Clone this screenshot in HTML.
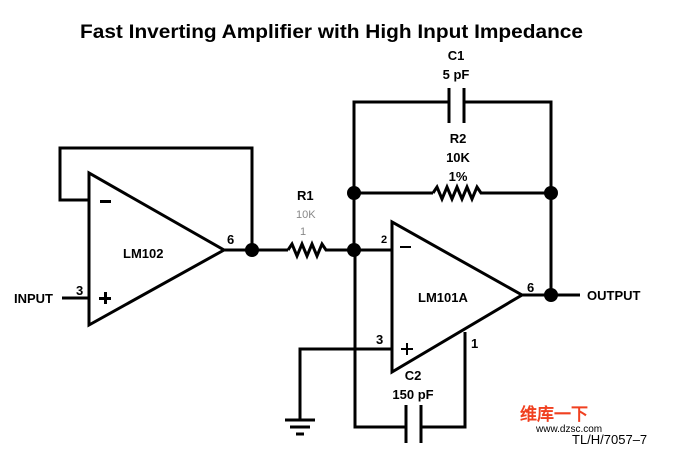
<!DOCTYPE html>
<html><head><style>
body{margin:0;background:#fff;}
svg{display:block;font-family:"Liberation Sans",sans-serif;font-weight:bold;}
</style></head><body>
<svg width="677" height="454" viewBox="0 0 677 454" xmlns="http://www.w3.org/2000/svg">
<rect width="677" height="454" fill="#fff"/>
<text x="80" y="38" font-size="19" textLength="503" lengthAdjust="spacingAndGlyphs" fill="#000">Fast Inverting Amplifier with High Input Impedance</text>
<g stroke="#000" stroke-width="3" fill="none">
<polygon points="89,173 89,325 224,250"/>
<polyline points="89,200 60,200 60,148 252,148 252,250"/>
<line x1="62" y1="298" x2="89" y2="298"/>
<line x1="224" y1="250" x2="288" y2="250"/>
<polyline points="288,250 292,244 297,256 302,244 307,256 312,244 317,256 322,244 326,250 340,250"/>
<line x1="340" y1="250" x2="392" y2="250"/>
<polygon points="392,222 392,372 522,295"/>
<line x1="522" y1="295" x2="580" y2="295"/>
<polyline points="354,250 354,102 449,102"/>
<polyline points="464,102 551,102 551,295"/>
<line x1="449" y1="88" x2="449" y2="123"/>
<line x1="464" y1="88" x2="464" y2="123"/>
<line x1="354" y1="193" x2="433" y2="193"/>
<polyline points="433,193 437,187 442,199 447,187 452,199 457,187 462,199 467,187 472,199 477,187 481,193 551,193"/>
<polyline points="392,349 300,349 300,420"/>
<line x1="285" y1="420" x2="315" y2="420"/>
<line x1="290" y1="427" x2="310" y2="427"/>
<line x1="296" y1="434" x2="304" y2="434"/>
<polyline points="355,250 355,427 406,427"/>
<line x1="406" y1="405" x2="406" y2="443"/>
<line x1="421" y1="405" x2="421" y2="443"/>
<polyline points="421,427 465,427 465,332"/>
</g>
<g fill="#000">
<circle cx="252" cy="250" r="7"/>
<circle cx="354" cy="250" r="7"/>
<circle cx="354" cy="193" r="7"/>
<circle cx="551" cy="193" r="7"/>
<circle cx="551" cy="295" r="7"/>
<rect x="100" y="200" width="11" height="3"/>
<rect x="99" y="297" width="12" height="3"/><rect x="104" y="292" width="3" height="12"/>
<rect x="400" y="246" width="11" height="2"/>
<rect x="401" y="348" width="12" height="2"/><rect x="406" y="343" width="2" height="12"/>
</g>
<g font-size="13" fill="#000">
<text x="123" y="258">LM102</text>
<text x="418" y="302">LM101A</text>
<text x="14" y="303">INPUT</text>
<text x="76" y="295">3</text>
<text x="227" y="244">6</text>
<text x="527" y="292">6</text>
<text x="587" y="300">OUTPUT</text>
<text x="376" y="344">3</text>
<text x="471" y="348">1</text>
<text x="381" y="243" font-size="11">2</text>
<text x="297" y="200">R1</text>
<text x="296" y="218" font-weight="normal" fill="#888" font-size="11">10K</text>
<text x="300" y="235" font-weight="normal" fill="#888" font-size="11">1</text>
<text x="456" y="60" text-anchor="middle">C1</text>
<text x="456" y="79" text-anchor="middle">5 pF</text>
<text x="458" y="143" text-anchor="middle">R2</text>
<text x="458" y="162" text-anchor="middle">10K</text>
<text x="458" y="181" text-anchor="middle">1%</text>
<text x="413" y="380" text-anchor="middle">C2</text>
<text x="413" y="399" text-anchor="middle">150 pF</text>
<text x="572" y="444" font-weight="normal">TL/H/7057–7</text>
</g>
<text x="520" y="420" font-size="17" fill="#f04020">维库一下</text>
<text x="536" y="432" font-size="10" fill="#000" font-weight="normal">www.dzsc.com</text>
</svg>
</body></html>
